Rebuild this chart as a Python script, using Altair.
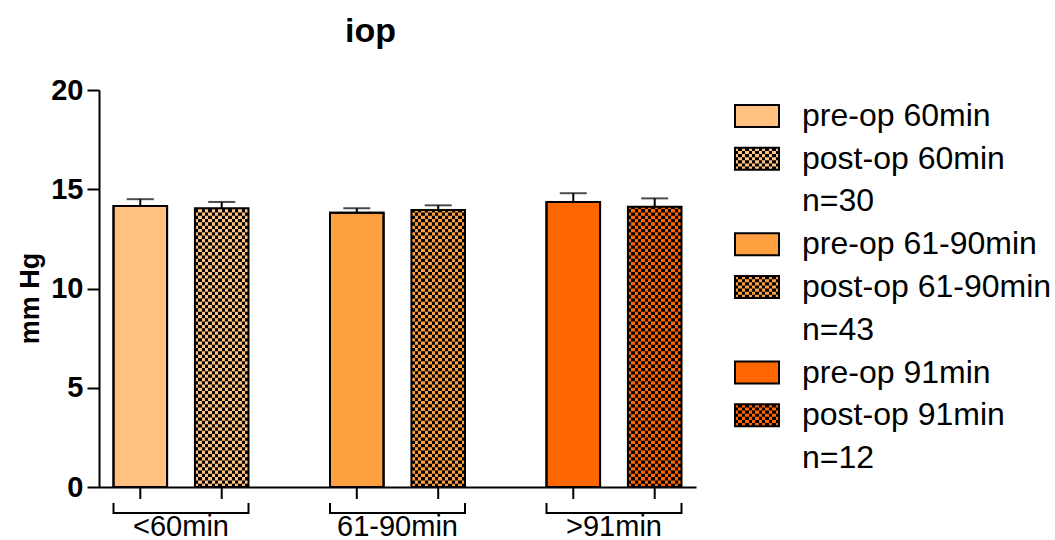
import altair as alt
import pandas as pd
import numpy as np

# ---------------- data ----------------
groups = ["<60min", "61-90min", ">91min"]
phases = ["pre", "post"]
pre_values = [14.16, 13.82, 14.36]
post_values = [14.04, 13.95, 14.12]
pre_errors = [0.34, 0.22, 0.44]
post_errors = [0.32, 0.24, 0.42]
group_colors = ["#FFC080", "#FFA040", "#FF6600"]
legend_labels = ["pre-op 60min", "post-op 60min", "n=30",
                 "pre-op 61-90min", "post-op 61-90min", "n=43",
                 "pre-op 91min", "post-op 91min", "n=12"]
y_ticks = [0, 5, 10, 15, 20]
y_title = "mm Hg"

FONT = "Liberation Sans"
W, H = 597, 397
CELL = 1 / 6  # checker row height in data units

# ---------------- tables ----------------
rows = []
for g, pv, pe, qv, qe in zip(groups, pre_values, pre_errors, post_values, post_errors):
    rows.append({"group": g, "phase": "pre", "value": pv, "upper": pv + pe})
    rows.append({"group": g, "phase": "post", "value": qv, "upper": qv + qe})
bars = pd.DataFrame(rows)

tex = []
for g, v in zip(groups, post_values):
    k = 1
    while k * CELL < v:
        tex.append({"group": g, "phase": "post", "y0": k * CELL, "y1": min((k + 1) * CELL, v)})
        k += 2
texture = pd.DataFrame(tex)

leg_rows = []
for i, lab in enumerate(legend_labels):
    kind = "n" if lab.startswith("n=") else ("pre" if lab.startswith("pre") else "post")
    leg_rows.append({"row": i, "label": lab, "kind": kind, "group": groups[i // 3]})
legend_df = pd.DataFrame(leg_rows)
leg_sub = pd.DataFrame([{"row": r, "group": g, "sub": s}
                        for r, g in zip([1, 4, 7], groups) for s in [1, 3, 5]])


def column_gradient(first, second, n):
    stops = []
    for i in range(n):
        c = first if i % 2 == 0 else second
        stops.append(alt.GradientStop(color=c, offset=i / n))
        stops.append(alt.GradientStop(color=c, offset=(i + 1) / n))
    return alt.Gradient(gradient="linear", stops=stops, x1=0, x2=1, y1=0, y2=0)


# ---------------- encodings ----------------
xscale = alt.Scale(domain=groups, paddingInner=0.3764, paddingOuter=0.067)
xaxis = alt.Axis(title=None, ticks=False, tickSize=0, domain=True, domainColor="black",
                 domainWidth=2, labelFont=FONT, labelFontSize=29, labelColor="black",
                 labelAngle=0, labelPadding=25)
yaxis = alt.Axis(title=None, values=y_ticks, grid=False, tickSize=12, tickWidth=2,
                 tickColor="black", domainColor="black", domainWidth=2,
                 labelFont=FONT, labelFontSize=29, labelFontWeight="bold",
                 labelColor="black", labelPadding=4)
yscale = alt.Scale(domain=[0, 20], nice=False)


def X(**kw):
    return alt.X("group:N", scale=xscale, axis=xaxis, **kw)


XO = alt.XOffset("phase:N", scale=alt.Scale(domain=phases, paddingInner=0.342, paddingOuter=0))


def Y(field):
    return alt.Y(field, type="quantitative", scale=yscale, axis=yaxis)


color_enc = alt.Color("group:N", scale=alt.Scale(domain=groups, range=group_colors), legend=None)

base = alt.Chart(bars)

pre_layer = base.transform_filter(alt.datum.phase == "pre").mark_bar(
    stroke="black", strokeWidth=2).encode(x=X(), xOffset=XO, y=Y("value"), color=color_enc)

main_layers = [pre_layer]
for g, c in zip(groups, group_colors):
    main_layers.append(
        base.transform_filter((alt.datum.phase == "post") & (alt.datum.group == g))
        .mark_bar(fill=column_gradient(c, "#000000", 16), strokeWidth=0)
        .encode(x=X(), xOffset=XO, y=Y("value"))
    )
    main_layers.append(
        alt.Chart(texture).transform_filter(alt.datum.group == g)
        .mark_bar(fill=column_gradient("#000000", c, 16), strokeWidth=0)
        .encode(x=X(), xOffset=XO, y=Y("y0"), y2="y1")
    )

outline = base.mark_bar(fill="transparent", stroke="black", strokeWidth=2).encode(
    x=X(), xOffset=XO, y=Y("value"))
err_rule = base.mark_rule(color="black", strokeWidth=2).encode(
    x=X(), xOffset=XO, y=Y("value"), y2="upper")
err_cap = base.mark_tick(color="black", size=27, thickness=2).encode(
    x=X(), xOffset=XO, y=Y("upper"))
bar_ticks = base.mark_rule(color="black", strokeWidth=2).encode(
    x=X(), xOffset=XO, y=alt.value(H), y2=alt.value(H + 12))

grp = alt.Chart(pd.DataFrame({"group": groups}))
bracket_h = grp.mark_rect(color="black").encode(x=X(), y=alt.value(H + 25), y2=alt.value(H + 27))
bracket_l = grp.mark_rule(color="black", strokeWidth=2).encode(
    x=X(bandPosition=0), y=alt.value(H + 16), y2=alt.value(H + 27))
bracket_r = grp.mark_rule(color="black", strokeWidth=2).encode(
    x=X(bandPosition=1), y=alt.value(H + 16), y2=alt.value(H + 27))

ytitle = alt.Chart(pd.DataFrame({"t": [y_title]})).mark_text(
    angle=270, align="center", baseline="middle", font=FONT, fontSize=27,
    fontWeight="bold", color="black").encode(text="t:N", x=alt.value(-68), y=alt.value(H / 2 + 10))

main = alt.layer(*main_layers, outline, err_rule, err_cap, bar_ticks,
                 bracket_h, bracket_l, bracket_r, ytitle)

# ---------------- legend ----------------
LY = alt.Y("row:O", scale=alt.Scale(domain=list(range(len(legend_labels))), range=[15, 379],
                                     paddingInner=0.4854, paddingOuter=0), axis=None)
lbase = alt.Chart(legend_df)
leg_layers = [
    lbase.transform_filter(alt.datum.kind == "pre").mark_rect(stroke="black", strokeWidth=2)
    .encode(y=LY, x=alt.value(636), x2=alt.value(680), color=color_enc)
]
for g, c in zip(groups, group_colors):
    leg_layers.append(
        lbase.transform_filter((alt.datum.kind == "post") & (alt.datum.group == g))
        .mark_rect(fill=column_gradient(c, "#000000", 13), strokeWidth=0)
        .encode(y=LY, x=alt.value(636), x2=alt.value(680))
    )
    leg_layers.append(
        alt.Chart(leg_sub).transform_filter(alt.datum.group == g)
        .mark_rect(fill=column_gradient("#000000", c, 13), strokeWidth=0)
        .encode(y=LY, yOffset=alt.YOffset("sub:O", scale=alt.Scale(domain=list(range(7)),
                                                                     paddingInner=0, paddingOuter=0)),
                x=alt.value(636), x2=alt.value(680))
    )
leg_layers.append(
    lbase.transform_filter(alt.datum.kind == "post").mark_rect(
        fill="transparent", stroke="black", strokeWidth=2)
    .encode(y=LY, x=alt.value(636), x2=alt.value(680))
)
leg_layers.append(
    lbase.mark_text(align="left", baseline="middle", font=FONT, fontSize=32, color="black")
    .encode(y=LY, x=alt.value(703), text="label:N")
)
legend = alt.layer(*leg_layers)

chart = (
    alt.layer(main, legend)
    .resolve_scale(y="independent")
    .properties(
        width=W, height=H,
        autosize=alt.AutoSizeParams(type="none"),
        padding={"left": 99, "top": 90, "right": 1055 - 99 - W, "bottom": 540 - 90 - H},
        title=alt.TitleParams("iop", font=FONT, fontSize=34, fontWeight="bold", color="black",
                              anchor="middle", frame="group", dx=-27, offset=27),
        background="white",
    )
    .configure_view(strokeWidth=0)
    .configure_axisY(labelFont=FONT, labelFontSize=29, labelFontWeight="bold")
    .configure_axisX(labelFont=FONT, labelFontSize=29, labelPadding=25)
)

chart.save("out.html", embed_options={"renderer": "svg", "actions": False})
